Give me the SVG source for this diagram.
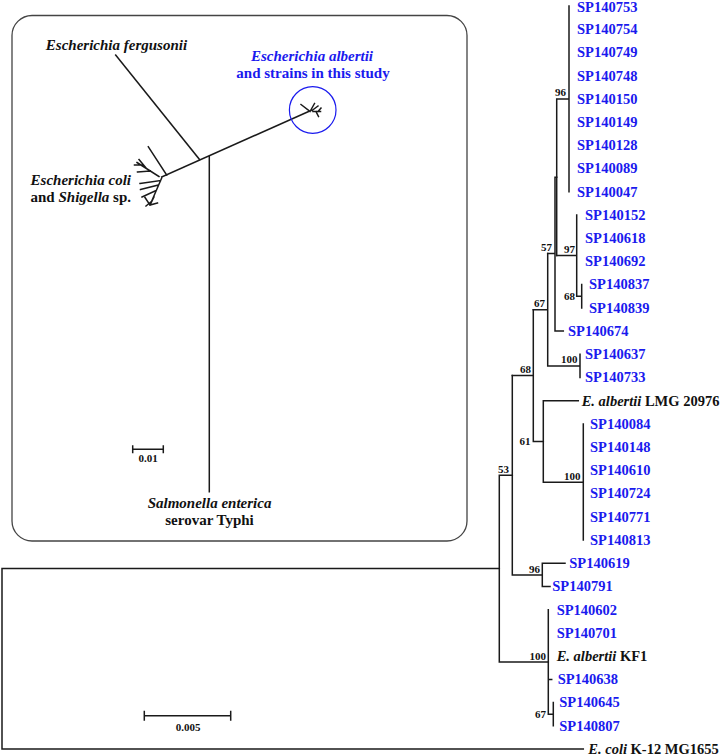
<svg xmlns="http://www.w3.org/2000/svg" width="725" height="756" viewBox="0 0 725 756">
<style>
.br{fill:none;stroke:#1a1a1a;stroke-width:1.5;stroke-linecap:square}
.lf{font-family:"Liberation Serif",serif;font-weight:bold;font-size:14.5px;fill:#1a1aee}
.lk{font-family:"Liberation Serif",serif;font-weight:bold;font-size:14.5px;fill:#111}
.bs{font-family:"Liberation Serif",serif;font-weight:bold;font-size:11px;fill:#111;text-anchor:end}
.it{font-style:italic}
.in{font-family:"Liberation Serif",serif;font-weight:bold;font-size:15px;fill:#111}
.sc{font-family:"Liberation Serif",serif;font-weight:bold;font-size:11px;fill:#111;text-anchor:middle}
</style>
<rect width="725" height="756" fill="#fff"/>
<g id="inset">
<rect x="12" y="15.5" width="455" height="525.5" rx="20" fill="none" stroke="#444" stroke-width="1.3"/>
<g class="br" stroke-width="1.4">
<path d="M161.7,177 L308.5,111.5"/>
<path d="M199.5,159.5 L115.7,55"/>
<path d="M209.3,156.5 L209.3,491.7"/>
<path d="M166.7,175 L148.3,146.7"/>
<path d="M159,176.5 L137,162.5 M150,171 L137.5,172 M146,168 L139,159.5 M142,165 L134.5,165"/>
<path d="M161.7,178 L150,205 M160.5,180.5 L140,183.5 M158.5,185 L140.5,189.5 M156,190.5 L142,197 M150,205 L145,197.5 M150,205 L154,197 M150,205 L157.5,203 M152,201 L146,206"/>
<path d="M310,111.5 L301,104.5 M310,111.5 L314.5,103.5 M312,110.5 L318,106 M313,111.5 L320.5,111.5 M316,111.5 L318.5,116.5 M318,111.5 L321,108"/>
</g>
<circle cx="312.7" cy="110" r="23.3" fill="none" stroke="#1a1aee" stroke-width="1.2"/>
<text class="in it" x="116.5" y="50" text-anchor="middle">Escherichia fergusonii</text>
<text class="in it" x="312" y="61" text-anchor="middle" style="fill:#1a1aee">Escherichia albertii</text>
<text class="in" x="313" y="77.5" text-anchor="middle" style="fill:#1a1aee">and strains in this study</text>
<text class="in it" x="131" y="185" text-anchor="end">Escherichia coli</text>
<text class="in" x="131" y="201.5" text-anchor="end">and <tspan class="it">Shigella</tspan> sp.</text>
<text class="in it" x="209.5" y="508" text-anchor="middle">Salmonella enterica</text>
<text class="in" x="209.5" y="525" text-anchor="middle">serovar Typhi</text>
<path class="br" stroke-width="1.3" d="M132.7,449.3 L163.3,449.3 M132.7,446 L132.7,452.6 M163.3,446 L163.3,452.6"/>
<text class="sc" x="148" y="462">0.01</text>
</g>
<g id="connectors" class="br">
<path d="M2,568.6 L2,749 L583.3,749 M2,568.6 L499.3,568.6"/>
<path d="M499.3,475.2 L499.3,662 M499.3,475.2 L512.3,475.2 M499.3,662 L548.3,662"/>
<path d="M548.3,609.7 L548.3,714.2 M548.3,679.4 L551.7,679.4 M548.3,714.2 L553.3,714.2 M553.3,702.6 L553.3,725.8"/>
<path d="M512.3,375.5 L512.3,574.9 M512.3,574.9 L542.3,574.9 M542.3,563.3 L542.3,586.5 M542.3,563.3 L565,563.3 M542.3,586.5 L550,586.5"/>
<path d="M512.3,375.5 L533.3,375.5 M533.3,309.7 L533.3,441.4 M533.3,441.4 L543.3,441.4"/>
<path d="M543.3,400.7 L543.3,482.2 M543.3,400.7 L578.3,400.7 M543.3,482.2 L583.3,482.2 M583.3,424 L583.3,540"/>
<path d="M533.3,309.7 L547.7,309.7 M547.7,253.6 L547.7,365.9 M547.7,365.9 L580,365.9 M580,354.3 L580,377.5"/>
<path d="M547.7,253.6 L555,253.6 M555,177.3 L555,331.1 M555,331.1 L563.3,331.1 M555,177.3 L556.7,177.3"/>
<path d="M556.7,98.9 L556.7,255.6 M556.7,98.9 L569,98.9 M569,6 L569,191.8"/>
<path d="M556.7,255.6 L576.7,255.6 M576.7,215 L576.7,296.2 M576.7,296.2 L581.7,296.2 M581.7,284.6 L581.7,307.9"/>
<path d="M144.3,715.7 L230.7,715.7 M144.3,711.5 L144.3,720 M230.7,711.5 L230.7,720"/>
</g>
<g id="support">
<text class="bs" x="566" y="96">96</text>
<text class="bs" x="575" y="253">97</text>
<text class="bs" x="575" y="299.7">68</text>
<text class="bs" x="552" y="251">57</text>
<text class="bs" x="545" y="307">67</text>
<text class="bs" x="577.5" y="363">100</text>
<text class="bs" x="531" y="373">68</text>
<text class="bs" x="530.5" y="444.5">61</text>
<text class="bs" x="580.5" y="479.5">100</text>
<text class="bs" x="509" y="472.5">53</text>
<text class="bs" x="540" y="572.5">96</text>
<text class="bs" x="546" y="659.5">100</text>
<text class="bs" x="546" y="718">67</text>
<text class="sc" x="188" y="731">0.005</text>
</g>
<g id="leaves">
<text class="lf" x="577" y="11.5">SP140753</text>
<text class="lf" x="577" y="34">SP140754</text>
<text class="lf" x="577" y="57.2">SP140749</text>
<text class="lf" x="577" y="80.5">SP140748</text>
<text class="lf" x="577" y="103.7">SP140150</text>
<text class="lf" x="577" y="126.9">SP140149</text>
<text class="lf" x="577" y="150.1">SP140128</text>
<text class="lf" x="577" y="173.3">SP140089</text>
<text class="lf" x="577" y="196.6">SP140047</text>
<text class="lf" x="585" y="219.8">SP140152</text>
<text class="lf" x="585" y="243">SP140618</text>
<text class="lf" x="585" y="266.2">SP140692</text>
<text class="lf" x="589" y="289.4">SP140837</text>
<text class="lf" x="589" y="312.7">SP140839</text>
<text class="lf" x="568" y="335.9">SP140674</text>
<text class="lf" x="585" y="359.1">SP140637</text>
<text class="lf" x="585" y="382.3">SP140733</text>
<text class="lk" x="581.7" y="405.5"><tspan class="it">E. albertii</tspan> LMG 20976</text>
<text class="lf" x="590" y="428.8">SP140084</text>
<text class="lf" x="590" y="452">SP140148</text>
<text class="lf" x="590" y="475.2">SP140610</text>
<text class="lf" x="590" y="498.4">SP140724</text>
<text class="lf" x="590" y="521.6">SP140771</text>
<text class="lf" x="590" y="544.8">SP140813</text>
<text class="lf" x="569.3" y="568.1">SP140619</text>
<text class="lf" x="552.3" y="591.3">SP140791</text>
<text class="lf" x="556.7" y="614.5">SP140602</text>
<text class="lf" x="556.7" y="637.7">SP140701</text>
<text class="lk" x="556.7" y="661"><tspan class="it">E. albertii</tspan> KF1</text>
<text class="lf" x="557.7" y="684.2">SP140638</text>
<text class="lf" x="559.3" y="707.4">SP140645</text>
<text class="lf" x="559.3" y="730.6">SP140807</text>
<text class="lk" x="588.3" y="753.8"><tspan class="it">E. coli</tspan> K-12 MG1655</text>
</g>
</svg>
